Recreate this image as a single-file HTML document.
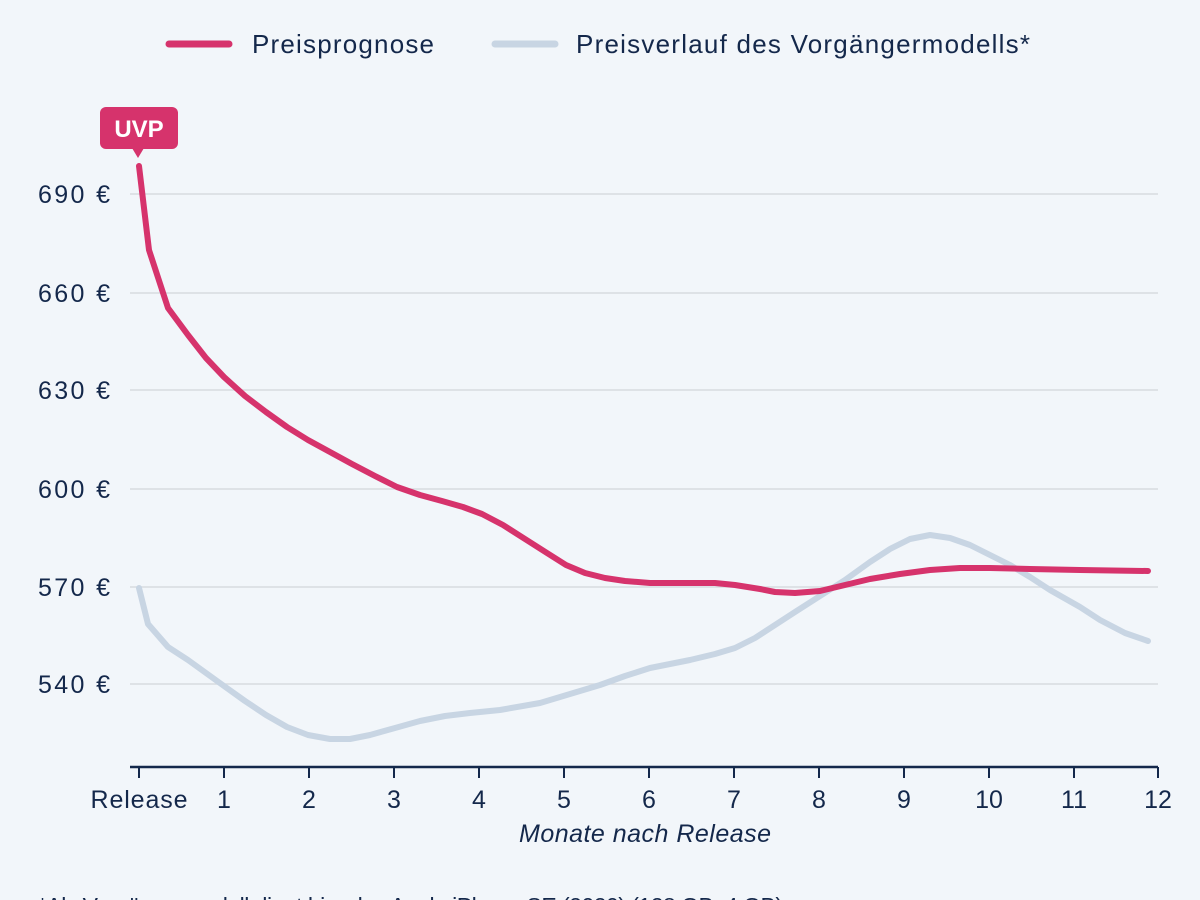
<!DOCTYPE html>
<html><head><meta charset="utf-8"><style>
html,body{margin:0;padding:0;background:#f2f6fa;}
svg{display:block;font-family:"Liberation Sans",sans-serif;}
</style></head><body>
<svg width="1200" height="900" viewBox="0 0 1200 900">
<rect width="1200" height="900" fill="#f2f6fa"/>
<g stroke="#d7dbe0" stroke-width="1.5">
<line x1="130" y1="194" x2="1158" y2="194"/>
<line x1="130" y1="293" x2="1158" y2="293"/>
<line x1="130" y1="390" x2="1158" y2="390"/>
<line x1="130" y1="489" x2="1158" y2="489"/>
<line x1="130" y1="587" x2="1158" y2="587"/>
<line x1="130" y1="684" x2="1158" y2="684"/>
</g>
<g fill="#14284b" font-size="25" text-anchor="end">
<text x="110" y="203" textLength="72">690 €</text>
<text x="110" y="302" textLength="72">660 €</text>
<text x="110" y="399" textLength="72">630 €</text>
<text x="110" y="498" textLength="72">600 €</text>
<text x="110" y="596" textLength="72">570 €</text>
<text x="110" y="693" textLength="72">540 €</text>
</g>
<line x1="130" y1="767" x2="1158" y2="767" stroke="#14284b" stroke-width="2.5"/>
<g stroke="#14284b" stroke-width="2">
<line x1="139" y1="767" x2="139" y2="778"/><line x1="224" y1="767" x2="224" y2="778"/>
<line x1="309" y1="767" x2="309" y2="778"/><line x1="394" y1="767" x2="394" y2="778"/>
<line x1="479" y1="767" x2="479" y2="778"/><line x1="564" y1="767" x2="564" y2="778"/>
<line x1="649" y1="767" x2="649" y2="778"/><line x1="734" y1="767" x2="734" y2="778"/>
<line x1="819" y1="767" x2="819" y2="778"/><line x1="904" y1="767" x2="904" y2="778"/>
<line x1="989" y1="767" x2="989" y2="778"/><line x1="1074" y1="767" x2="1074" y2="778"/>
<line x1="1158" y1="767" x2="1158" y2="778"/>
</g>
<g fill="#14284b" font-size="25" text-anchor="middle">
<text x="139" y="808" textLength="97">Release</text><text x="224" y="808">1</text><text x="309" y="808">2</text>
<text x="394" y="808">3</text><text x="479" y="808">4</text><text x="564" y="808">5</text>
<text x="649" y="808">6</text><text x="734" y="808">7</text><text x="819" y="808">8</text>
<text x="904" y="808">9</text><text x="989" y="808">10</text><text x="1074" y="808">11</text>
<text x="1158" y="808">12</text>
<text x="645" y="842" font-style="italic" textLength="252">Monate nach Release</text>
</g>
<text x="38" y="914" fill="#14284b" font-size="23" textLength="745">*Als Vorgängermodell dient hier das Apple iPhone SE (2020) (128 GB, 4 GB)</text>
<polyline fill="none" stroke="#c8d5e3" stroke-width="6" stroke-linejoin="round" stroke-linecap="round" points="139,588 148,624 168,647 188,660 206,673 224,686 245,701 266,715 287,727 308,735 330,739 350,739 370,735 395,728 420,721 445,716 470,713 500,710 540,703 570,694 600,685 625,676 650,668 690,660 715,654 735,648 755,638 775,625 795,612 820,596 845,580 870,562 890,549 910,539 930,535 950,538 970,545 990,555 1010,565 1030,577 1050,590 1080,607 1100,620 1125,633 1148,641"/>
<polyline fill="none" stroke="#d6336c" stroke-width="6" stroke-linejoin="round" stroke-linecap="round" points="139,166 149,250 168,308 188,335 206,358 224,377 245,396 266,412 287,427 308,440 330,452 352,464 375,476 397,487 420,495 442,501 463,507 482,514 503,525 525,539 547,553 566,565 585,573 605,578 625,581 650,583 690,583 715,583 735,585 760,589 775,592 795,593 820,591 845,585 870,579 900,574 930,570 960,568 990,568 1030,569 1080,570 1148,571"/>
<rect x="100" y="107" width="78" height="42" rx="6" fill="#d6336c"/>
<polygon points="132,148 144,148 138,158" fill="#d6336c"/>
<text x="139" y="137" fill="#fff" font-size="24" font-weight="bold" text-anchor="middle">UVP</text>
<line x1="169" y1="44" x2="229" y2="44" stroke="#d6336c" stroke-width="7" stroke-linecap="round"/>
<text x="252" y="53" fill="#14284b" font-size="26" textLength="182">Preisprognose</text>
<line x1="495" y1="44" x2="555" y2="44" stroke="#c8d5e3" stroke-width="7" stroke-linecap="round"/>
<text x="576" y="53" fill="#14284b" font-size="26" textLength="454">Preisverlauf des Vorgängermodells*</text>
</svg>
</body></html>
